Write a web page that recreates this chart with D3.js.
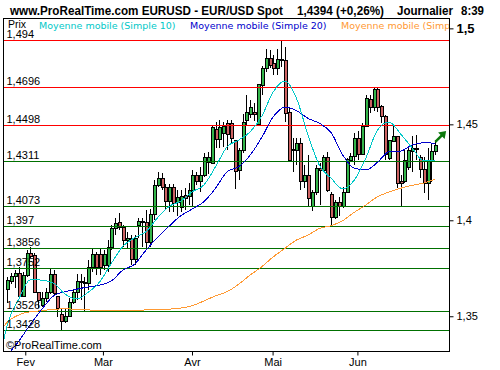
<!DOCTYPE html>
<html lang="fr">
<head>
    <meta charset="UTF-8">
    <title>EURUSD - EUR/USD Spot</title>
    <script src="https://d3js.org/d3.v7.min.js"></script>
    <style>
        html, body { margin: 0; padding: 0; background: #fff; }
        svg { display: block; }
        text { font-family: "Liberation Sans", Arial, sans-serif; fill: #000; }
    </style>
</head>
<body>
<svg id="chart" width="500" height="370"></svg>
<script>
    // bougies journalières
    const opens = [1.3642,1.3684,1.3710,1.3726,1.3606,1.3715,1.3830,1.3819,1.3627,1.3559,1.3595,1.3627,1.3720,1.3606,1.3512,1.3476,1.3502,1.3574,1.3627,1.3679,1.3679,1.3674,1.3757,1.3825,1.3825,1.3767,1.3767,1.3861,1.3960,1.3991,1.3965,1.3897,1.3908,1.3799,1.3976,1.3991,1.3991,1.3887,1.4033,1.4184,1.4220,1.4174,1.4101,1.4174,1.4095,1.4069,1.4132,1.4127,1.4158,1.4236,1.4205,1.4236,1.4304,1.4298,1.4476,1.4424,1.4455,1.4507,1.4507,1.4418,1.4262,1.4366,1.4522,1.4554,1.4564,1.4502,1.4705,1.4793,1.4845,1.4819,1.4793,1.4840,1.4835,1.4564,1.4372,1.4366,1.4403,1.4205,1.4236,1.4075,1.4147,1.4272,1.4262,1.4330,1.4137,1.4017,1.4095,1.4075,1.4147,1.4314,1.4335,1.4429,1.4345,1.4491,1.4632,1.4590,1.4684,1.4595,1.4543,1.4325,1.4413,1.4439,1.4205,1.4205,1.4278,1.4361,1.4377,1.4330,1.4267,1.4194,1.4314,1.4361];
    const highs = [1.3705,1.3726,1.3741,1.3757,1.3731,1.3845,1.3861,1.3830,1.3627,1.3627,1.3647,1.3746,1.3741,1.3606,1.3543,1.3543,1.3595,1.3637,1.3720,1.3720,1.3705,1.3793,1.3856,1.3835,1.3856,1.3845,1.3897,1.3976,1.4012,1.4038,1.3976,1.3939,1.3924,1.3924,1.4012,1.4012,1.4054,1.4059,1.4210,1.4252,1.4246,1.4189,1.4189,1.4189,1.4158,1.4158,1.4168,1.4194,1.4262,1.4252,1.4278,1.4351,1.4356,1.4491,1.4512,1.4522,1.4512,1.4522,1.4522,1.4418,1.4377,1.4554,1.4653,1.4627,1.4611,1.4710,1.4804,1.4892,1.4887,1.4861,1.4892,1.4939,1.4903,1.4590,1.4429,1.4429,1.4429,1.4288,1.4340,1.4158,1.4288,1.4298,1.4340,1.4356,1.4147,1.4106,1.4121,1.4174,1.4325,1.4351,1.4455,1.4465,1.4507,1.4653,1.4653,1.4694,1.4694,1.4601,1.4548,1.4418,1.4491,1.4439,1.4236,1.4366,1.4382,1.4439,1.4444,1.4340,1.4330,1.4377,1.4403,1.4418];
    const lows = [1.3569,1.3668,1.3647,1.3595,1.3601,1.3705,1.3804,1.3621,1.3543,1.3549,1.3574,1.3616,1.3611,1.3496,1.3429,1.3465,1.3496,1.3564,1.3585,1.3585,1.3528,1.3637,1.3731,1.3715,1.3715,1.3741,1.3731,1.3845,1.3924,1.3950,1.3861,1.3856,1.3767,1.3767,1.3908,1.3861,1.3856,1.3861,1.4002,1.4174,1.4158,1.4054,1.4043,1.4043,1.4022,1.4043,1.4054,1.4080,1.4069,1.4184,1.4147,1.4226,1.4241,1.4293,1.4377,1.4377,1.4382,1.4366,1.4403,1.4163,1.4210,1.4351,1.4496,1.4533,1.4517,1.4491,1.4653,1.4772,1.4793,1.4757,1.4757,1.4798,1.4512,1.4314,1.4252,1.4288,1.4158,1.4168,1.4069,1.4048,1.4132,1.4080,1.4252,1.4147,1.3976,1.4007,1.4022,1.4064,1.4142,1.4304,1.4288,1.4314,1.4340,1.4486,1.4559,1.4569,1.4564,1.4507,1.4314,1.4314,1.4408,1.4168,1.4075,1.4194,1.4262,1.4252,1.4314,1.4220,1.4142,1.4106,1.4200,1.4340];
    const closes = [1.3689,1.3710,1.3726,1.3606,1.3715,1.3830,1.3814,1.3627,1.3585,1.3595,1.3627,1.3720,1.3621,1.3543,1.3476,1.3502,1.3574,1.3627,1.3684,1.3684,1.3674,1.3757,1.3825,1.3757,1.3757,1.3825,1.3861,1.3960,1.3986,1.3965,1.3897,1.3908,1.3799,1.3908,1.3996,1.3996,1.3887,1.4033,1.4184,1.4220,1.4174,1.4101,1.4174,1.4090,1.4121,1.4127,1.4116,1.4158,1.4236,1.4205,1.4236,1.4330,1.4330,1.4486,1.4424,1.4486,1.4491,1.4450,1.4429,1.4257,1.4366,1.4512,1.4564,1.4590,1.4554,1.4710,1.4793,1.4845,1.4809,1.4793,1.4840,1.4835,1.4559,1.4314,1.4366,1.4403,1.4205,1.4236,1.4116,1.4147,1.4272,1.4262,1.4330,1.4158,1.4017,1.4095,1.4075,1.4147,1.4319,1.4335,1.4429,1.4345,1.4491,1.4637,1.4590,1.4684,1.4590,1.4543,1.4345,1.4418,1.4439,1.4194,1.4194,1.4314,1.4366,1.4377,1.4372,1.4267,1.4194,1.4314,1.4361,1.4394];

    // moyennes mobiles relevées toutes les 3 bougies
    const maIndex = [-1,0,3,6,9,12,15,18,21,24,27,30,33,36,39,42,45,48,51,54,57,60,63,66,69,72,75,78,81,84,87,90,93,96,99,102,105,108,111];
    const ma10 = [1.3368,1.3455,1.3590,1.3691,1.3688,1.3672,1.3615,1.3590,1.3625,1.3680,1.3776,1.3865,1.3909,1.3941,1.4014,1.4073,1.4100,1.4149,1.4184,1.4279,1.4383,1.4418,1.4461,1.4543,1.4670,1.4726,1.4635,1.4444,1.4284,1.4219,1.4163,1.4210,1.4325,1.4470,1.4512,1.4450,1.4377,1.4309,1.4309];
    const ma20 = [null,1.3298,1.3371,1.3458,1.3538,1.3606,1.3628,1.3641,1.3653,1.3662,1.3684,1.3741,1.3771,1.3845,1.3912,1.3970,1.4024,1.4059,1.4097,1.4167,1.4253,1.4279,1.4340,1.4432,1.4540,1.4589,1.4571,1.4531,1.4505,1.4456,1.4340,1.4271,1.4262,1.4302,1.4357,1.4361,1.4392,1.4404,1.4401];
    const ma200 = [1.3446,1.3469,1.3507,1.3524,1.3529,1.3537,1.3538,1.3537,1.3533,1.3531,1.3529,1.3529,1.3531,1.3533,1.3534,1.3537,1.3543,1.3555,1.3580,1.3606,1.3628,1.3667,1.3715,1.3758,1.3810,1.3854,1.3897,1.3923,1.3958,1.3972,1.3998,1.4042,1.4080,1.4123,1.4147,1.4167,1.4182,1.4194,1.4215];

    // niveaux horizontaux
    const redLevels = [1.494, 1.4696, 1.4498];
    const greenLevels = [1.4311, 1.4073, 1.397, 1.3856, 1.3752, 1.3526, 1.3428];

    const priceTicks = [1.5, 1.45, 1.4, 1.35];
    const monthTicks = [4.66, 24.8, 47.9, 68.8, 90.8];
    const monthLabels = ["Fev", "Mar", "Avr", "Mai", "Jun"];

    const arrowIndex = [111, 113.8];
    const arrowPrice = [1.4408, 1.4465];

    const plotLeft = 3, plotRight = 449, plotTop = 18, plotBottom = 351;
    const frText = v => String(v).replace(".", ",");

    const svg = d3.select("#chart");

    const x = d3.scaleLinear().domain([-1.115, 114.55]).range([plotLeft, plotRight]);
    const y = d3.scaleLinear().domain([1.5054, 1.3319]).range([plotTop, plotBottom]);
    const px = v => Math.round(v) + 0.5;

    svg.append("defs").append("clipPath").attr("id", "plot")
        .append("rect")
        .attr("x", plotLeft).attr("y", plotTop)
        .attr("width", plotRight - plotLeft).attr("height", plotBottom - plotTop);

    // titre
    const titleGroup = svg.append("g").attr("font-weight", "bold").attr("font-size", 12.5);
    [["www.ProRealTime.com EURUSD - EUR/USD Spot", 10, 273],
     ["1,4394 (+0,26%)", 297, 87],
     ["Journalier", 397, 56],
     ["8:39", 461, 23]].forEach(d => {
        titleGroup.append("text").attr("x", d[1]).attr("y", 14.5)
            .attr("textLength", d[2]).attr("lengthAdjust", "spacingAndGlyphs").text(d[0]);
    });

    // bougies
    const plot = svg.append("g").attr("clip-path", "url(#plot)");
    const candles = plot.append("g").attr("shape-rendering", "crispEdges");
    const idx = d3.range(opens.length);

    candles.selectAll("line").data(idx).enter().append("line")
        .attr("x1", i => px(x(i))).attr("x2", i => px(x(i)))
        .attr("y1", i => Math.round(y(highs[i]))).attr("y2", i => Math.round(y(lows[i])))
        .attr("stroke", "#000");

    candles.selectAll("rect").data(idx).enter().append("rect")
        .attr("x", i => px(x(i)) - 1.5)
        .attr("width", 3)
        .attr("y", i => px(y(Math.max(opens[i], closes[i]))))
        .attr("height", i => Math.max(1, Math.round(Math.abs(y(opens[i]) - y(closes[i])))))
        .attr("fill", i => closes[i] >= opens[i] ? "#33b54a" : "#cc6262")
        .attr("stroke", "#000");

    // niveaux
    const levels = plot.append("g").attr("shape-rendering", "crispEdges");
    levels.selectAll("line.red").data(redLevels).enter().append("line")
        .attr("class", "red")
        .attr("x1", plotLeft).attr("x2", plotRight)
        .attr("y1", d => px(y(d))).attr("y2", d => px(y(d)))
        .attr("stroke", "#ff0000");
    levels.selectAll("line.green").data(greenLevels).enter().append("line")
        .attr("class", "green")
        .attr("x1", plotLeft).attr("x2", plotRight)
        .attr("y1", d => px(y(d))).attr("y2", d => px(y(d)))
        .attr("stroke", "#007000");

    // moyennes mobiles
    const maLine = d3.line()
        .defined(d => d[1] !== null)
        .x(d => x(d[0]))
        .y(d => y(d[1]))
        .curve(d3.curveMonotoneX);

    [[ma200, "#ff9933"], [ma20, "#0000cc"], [ma10, "#00c8c8"]].forEach(d => {
        plot.append("path")
            .datum(maIndex.map((k, i) => [k, d[0][i]]))
            .attr("d", maLine)
            .attr("fill", "none")
            .attr("stroke", d[1])
            .attr("stroke-width", 1)
            .attr("shape-rendering", "crispEdges");
    });

    // flèche
    const arrowEnd = [x(arrowIndex[1]), y(arrowPrice[1])];
    plot.append("line")
        .attr("x1", x(arrowIndex[0])).attr("y1", y(arrowPrice[0]))
        .attr("x2", arrowEnd[0] - 3).attr("y2", arrowEnd[1] + 3)
        .attr("stroke", "#0a780a").attr("stroke-width", 2.5);
    plot.append("path")
        .attr("d", `M${arrowEnd[0]},${arrowEnd[1]}l-8,1.5l6.5,6.5z`)
        .attr("fill", "#0a780a");

    // étiquettes des niveaux
    const labels = plot.append("g").attr("font-size", 11);
    labels.selectAll("text").data(redLevels.concat(greenLevels)).enter().append("text")
        .attr("x", 6.5)
        .attr("y", d => Math.round(y(d)) - 2)
        .text(frText);

    // légende
    const legend = svg.append("g").attr("font-size", 10);
    legend.append("text").attr("x", 8).attr("y", 28).attr("font-size", 10.5).text("Prix");
    [["Moyenne mobile (Simple 10)", 39, "#00c8c8"],
     ["Moyenne mobile (Simple 20)", 190, "#0000cc"],
     ["Moyenne mobile (Simp", 341, "#ff9933"]].forEach(d => {
        legend.append("text").attr("x", d[1]).attr("y", 28.5)
            .style("fill", d[2]).style("font-family", "'DejaVu Sans'")
            .attr("font-size", 9.5)
            .text(d[0]);
    });

    // axes
    const yAxis = d3.axisRight(y).tickValues(priceTicks).tickSize(4).tickPadding(3).tickFormat(frText);
    const yg = svg.append("g").attr("transform", `translate(${plotRight + 0.5},0)`).call(yAxis);
    yg.select(".domain").remove();
    yg.selectAll("text").attr("font-size", 11).style("font-family", "'Liberation Sans'");
    yg.selectAll("text").filter(d => d === 1.5).attr("font-weight", "bold").attr("font-size", 13);

    const xAxis = d3.axisBottom(x).tickValues(monthTicks).tickSize(4).tickPadding(3)
        .tickFormat((d, i) => monthLabels[i]);
    const xg = svg.append("g").attr("transform", `translate(0,${plotBottom + 0.5})`).call(xAxis);
    xg.select(".domain").remove();
    xg.selectAll("text").attr("font-size", 11).style("font-family", "'Liberation Sans'");

    // cadre
    svg.append("rect")
        .attr("x", plotLeft + 0.5).attr("y", plotTop + 0.5)
        .attr("width", plotRight - plotLeft).attr("height", plotBottom - plotTop)
        .attr("fill", "none").attr("stroke", "#000")
        .attr("shape-rendering", "crispEdges");

    svg.append("text").attr("x", 6).attr("y", 348.5).attr("font-size", 11).text("©ProRealTime.com");
</script>
</body>
</html>
